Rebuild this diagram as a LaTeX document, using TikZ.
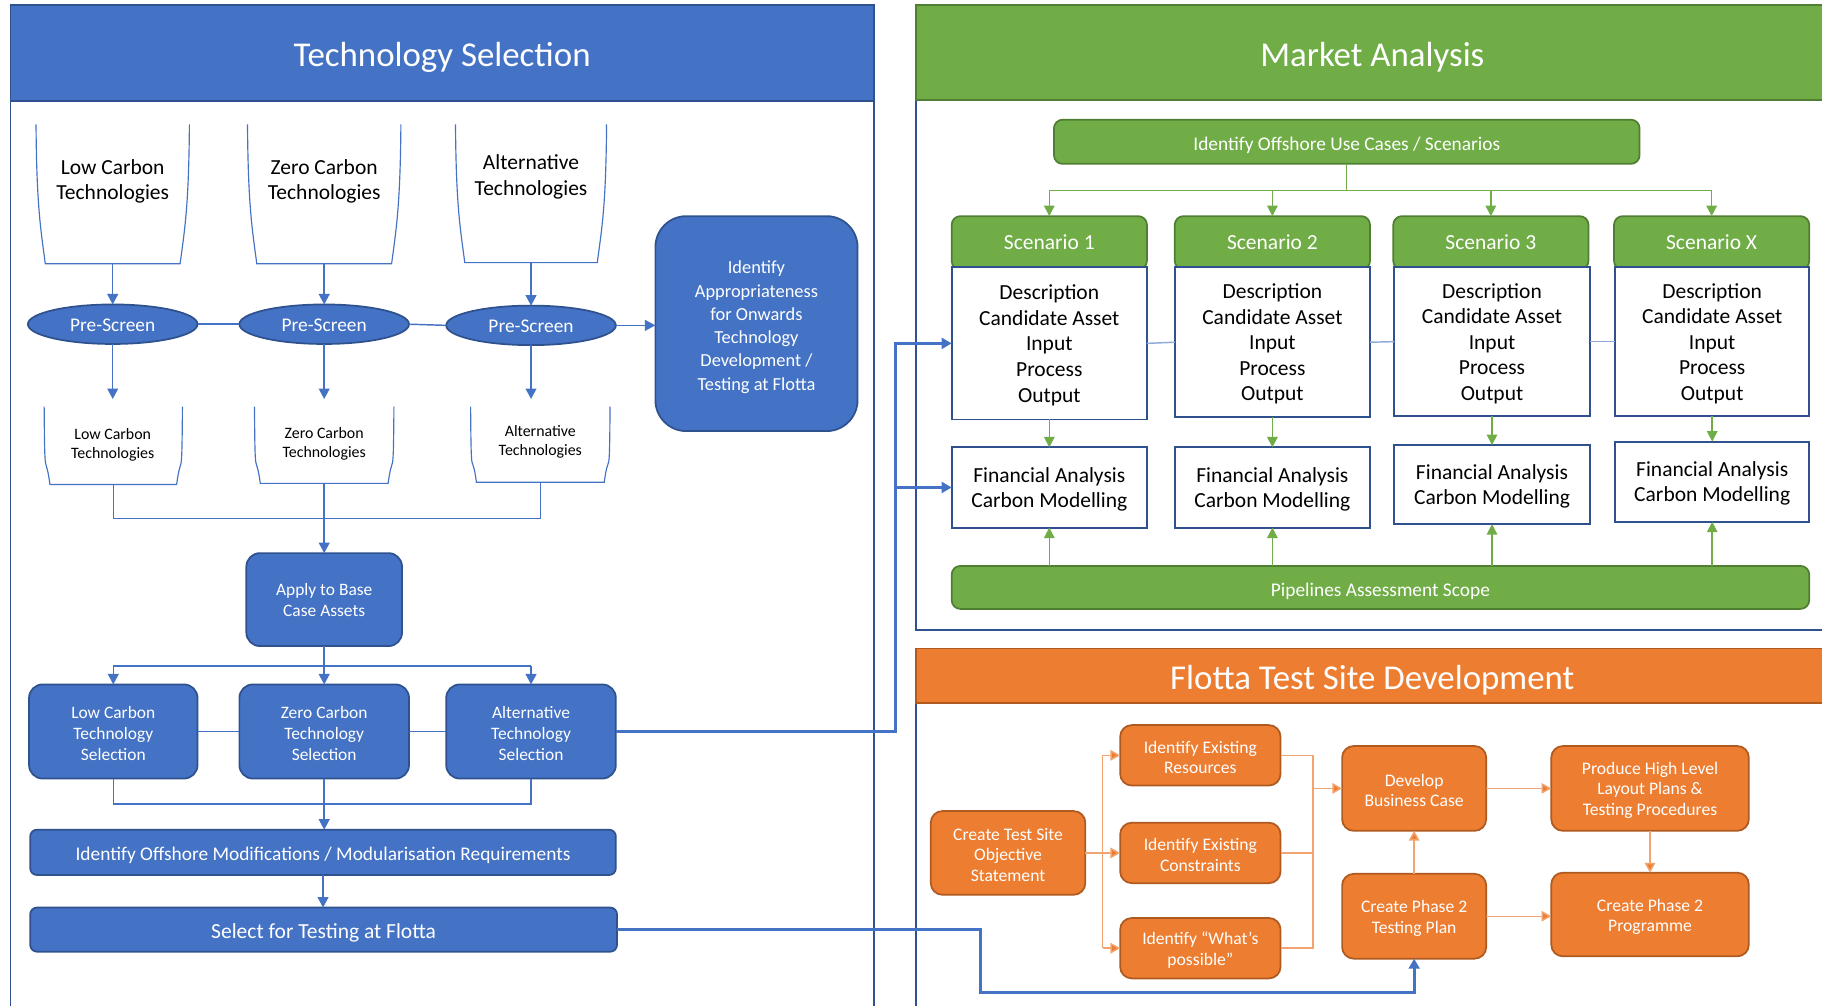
\documentclass[tikz,border=0pt]{standalone}
\usepackage{fontspec}
\setmainfont{Carlito}
\usetikzlibrary{arrows.meta,shapes.geometric}
\definecolor{bfill}{HTML}{4472C4}
\definecolor{bdark}{HTML}{2F528F}
\definecolor{blight}{HTML}{8FAADC}
\definecolor{gfill}{HTML}{70AD47}
\definecolor{gdark}{HTML}{507E32}
\definecolor{ofill}{HTML}{ED7D31}
\definecolor{odark}{HTML}{AE5A21}
\definecolor{oline}{HTML}{F2A470}
\newcommand\FTitle{\fontsize{18pt}{21pt}\selectfont}
\newcommand\FBody{\fontsize{11.1pt}{13.2pt}\selectfont}
\newcommand\FMed{\fontsize{10pt}{12pt}\selectfont}
\newcommand\FIA{\fontsize{9.5pt}{12pt}\selectfont}
\newcommand\FBx{\fontsize{9pt}{10.8pt}\selectfont}
\newcommand\FSm{\fontsize{8.2pt}{9.6pt}\selectfont}
\newcommand\FOr{\fontsize{9.1pt}{10.6pt}\selectfont}
\newcommand\sk[1]{\rule{0pt}{#1}}
\tikzset{
  every node/.style={inner sep=0pt,outer sep=0pt,align=center},
  wh/.style 2 args={minimum width=#1*0.6pt,minimum height=#2*0.6pt},
  tdown/.style={execute at begin node={\rule{0pt}{#1}}},
  panelhead/.style={line width=0.9pt,text=white,font=\FTitle,tdown=17.2pt},
  panelbody/.style={draw=bdark,line width=0.9pt,fill=white},
  bbox/.style={draw=bdark,fill=bfill,line width=0.9pt,rounded corners=7pt,text=white,font=\FBx},
  bbar/.style={draw=bdark,fill=bfill,line width=0.9pt,rounded corners=3.5pt,text=white},
  pscreen/.style={ellipse,draw=bdark,fill=bfill,line width=0.9pt,text=white,font=\FMed,tdown=7.6pt},
  contl/.style={draw=bfill,line width=0.6pt},
  gbox/.style={draw=gdark,fill=gfill,line width=0.9pt,rounded corners=4.5pt,text=white},
  wbox/.style={draw=bdark,fill=white,line width=1pt,font=\FBody},
  obox/.style={draw=odark,fill=ofill,line width=0.9pt,rounded corners=6pt,text=white,font=\FOr},
  bc/.style={draw=bfill,line width=0.75pt},
  bca/.style={bc,-{Triangle[width=5.6pt,length=5.4pt]}},
  bthick/.style={draw=bfill,line width=1.6pt},
  bthicka/.style={bthick,-{Triangle[width=5.6pt,length=5.2pt]}},
  gc/.style={draw=gfill,line width=0.75pt},
  gca/.style={gc,-{Triangle[width=5.4pt,length=5.4pt]}},
  lbc/.style={draw=blight,line width=0.75pt},
  oc/.style={draw=oline,line width=0.75pt},
  oca/.style={oc,-{Triangle[width=5.4pt,length=5pt,fill=ofill]}},
}
\newcommand\contshape[2]{\draw[contl] (#1.north west) .. controls +(0.5,70) and +(-4,-30) .. ([xshift=#2*0.6pt]#1.south west) -- ([xshift=-#2*0.6pt]#1.south east) .. controls +(4,-30) and +(-0.5,70) .. (#1.north east);}
\begin{document}
\begin{tikzpicture}[x=0.6pt,y=-0.6pt]
\clip (0,0) rectangle (1568,865);
\fill[white] (0,0) rectangle (1568,865);

% ---------- panels ----------
\draw[panelbody] (9,4) rectangle (752,900);
\node[panelhead,fill=bfill,draw=bdark,wh={743}{83}] (tshead) at (380.5,45.5) {Technology Selection};
\draw[panelbody] (788,4) rectangle (1574,542);
\node[panelhead,fill=gfill,draw=gdark,wh={786}{82}] (mahead) at (1181,45) {Market Analysis};
\draw[panelbody] (788,558) rectangle (1574,900);
\node[panelhead,fill=ofill,draw=odark,wh={786}{47}] (fthead) at (1181,581.5) {Flotta Test Site Development};

% ---------- technology selection ----------
\node[wh={132}{120}] (lct) at (97,167) {};
\node[wh={132}{120}] (zct) at (279,167) {};
\node[wh={130}{119}] (alt) at (457,166.5) {};
\contshape{lct}{8}
\contshape{zct}{8}
\contshape{alt}{8}
\node[font=\FBody] (lctt) at (97,156) {Low Carbon\\Technologies};
\node[font=\FBody] (zctt) at (279,156) {Zero Carbon\\Technologies};
\node[font=\FBody] (altt) at (457,152) {Alternative\\Technologies};

\node[pscreen,wh={146}{34}] (ps1) at (97,279) {Pre-Screen};
\node[pscreen,wh={146}{34}] (ps2) at (279,279) {Pre-Screen};
\node[pscreen,wh={146}{34}] (ps3) at (457,280) {Pre-Screen};

\node[bbox,rounded corners=16pt,font=\FIA,wh={174}{185}] (ia) at (651,278.5)
  {\sk{10.3pt}Identify\\Appropriateness\\for Onwards\\Technology\\Development /\\Testing at Flotta};

\node[wh={119}{67}] (lcl) at (97.5,383.5) {};
\node[wh={120}{66}] (zcl) at (279,383) {};
\node[wh={120}{65}] (all) at (465,382.5) {};
\contshape{lcl}{5}
\contshape{zcl}{5}
\contshape{all}{5}
\node[font=\FSm] (lclt) at (97,383) {Low Carbon\\Technologies};
\node[font=\FSm] (zclt) at (279,382) {Zero Carbon\\Technologies};
\node[font=\FSm] (allt) at (465,380) {Alternative\\Technologies};

\node[bbox,wh={134}{80}] (ab) at (279,516) {Apply to Base\\Case Assets};
\node[bbox,wh={145}{81}] (lcs) at (97.5,629.5) {\sk{8.7pt}Low Carbon\\Technology\\Selection};
\node[bbox,wh={146}{81}] (zcs) at (279,629.5) {\sk{8.7pt}Zero Carbon\\Technology\\Selection};
\node[bbox,wh={146}{81}] (as) at (457,629.5) {\sk{8.7pt}Alternative\\Technology\\Selection};
\node[bbar,font=\FMed,tdown=10.4pt,wh={504}{39}] (iom) at (278,733.5) {Identify Offshore Modifications / Modularisation Requirements};
\node[bbar,font=\FBody,tdown=11.2pt,wh={505}{38}] (sel) at (278.5,800) {Select for Testing at Flotta};

% connectors (technology)
\draw[bca] (lct.south) -- (ps1.north);
\draw[bca] (zct.south) -- (ps2.north);
\draw[bca] (alt.south) -- (ps3.north);
\draw[bc] (ps1.east) -- (ps2.west);
\draw[bc] (ps2.east) -- (ps3.west);
\draw[bca] (ps3.east) -- (ps3.east -| ia.west);
\draw[bca,shorten >=4pt] (ps1.south) -- (ps1.south |- lcl.north);
\draw[bca,shorten >=4pt] (ps2.south) -- (ps2.south |- zcl.north);
\draw[bca,shorten >=4pt] (ps3.south) -- (ps3.south |- all.north);
\coordinate (m1) at (279,446);
\draw[bc] (lcl.south) |- (m1) -| (all.south);
\draw[bca] (zcl.south) -- (ab.north);
\coordinate (m2) at (279,573);
\draw[bc] (ab.south) -- (m2);
\draw[bc] (lcs.north |- m2) -- (as.north |- m2);
\draw[bca] (lcs.north |- m2) -- (lcs.north);
\draw[bca] (m2) -- (zcs.north);
\draw[bca] (as.north |- m2) -- (as.north);
\draw[bc] (lcs.east) -- (zcs.west);
\draw[bc] (zcs.east) -- (as.west);
\coordinate (m3) at (279,692);
\draw[bc] (lcs.south) |- (m3) -| (as.south);
\draw[bca] (zcs.south) -- (zcs.south |- iom.north);
\draw[bca] (iom.south) -- (iom.south |- sel.north);

% ---------- market analysis ----------
\node[gbox,font=\FMed,tdown=10.4pt,wh={504}{38}] (iou) at (1159,122) {Identify Offshore Use Cases / Scenarios};
\node[gbox,font=\FBody,wh={168}{46}] (s1) at (903,209) {};
\node[gbox,font=\FBody,wh={168}{46}] (s2) at (1095,209) {};
\node[gbox,font=\FBody,wh={168}{46}] (s3) at (1283,209) {};
\node[gbox,font=\FBody,wh={168}{46}] (sx) at (1473,209) {};
\node[wbox,wh={168}{131}] (d1) at (903,295.5) {\sk{9.6pt}Description\\Candidate Asset\\Input\\Process\\Output};
\node[wbox,wh={168}{129}] (d2) at (1095,294.5) {\sk{9.6pt}Description\\Candidate Asset\\Input\\Process\\Output};
\node[wbox,wh={168}{128}] (d3) at (1284,294) {\sk{9.6pt}Description\\Candidate Asset\\Input\\Process\\Output};
\node[wbox,wh={167}{128}] (dx) at (1473.5,294) {\sk{9.6pt}Description\\Candidate Asset\\Input\\Process\\Output};
\node[text=white,font=\FBody] (s1t) at (903,208) {Scenario 1};
\node[text=white,font=\FBody] (s2t) at (1095,208) {Scenario 2};
\node[text=white,font=\FBody] (s3t) at (1283,208) {Scenario 3};
\node[text=white,font=\FBody] (sxt) at (1473,208) {Scenario X};
\node[wbox,wh={168}{69}] (f1) at (903,419.5) {\sk{9.6pt}Financial Analysis\\Carbon Modelling};
\node[wbox,wh={168}{69}] (f2) at (1095,419.5) {\sk{9.6pt}Financial Analysis\\Carbon Modelling};
\node[wbox,wh={168}{68}] (f3) at (1284,417) {\sk{9.6pt}Financial Analysis\\Carbon Modelling};
\node[wbox,wh={167}{69}] (fx) at (1473.5,414.5) {\sk{9.6pt}Financial Analysis\\Carbon Modelling};
\node[gbox,font=\FMed,tdown=10.6pt,wh={738}{37}] (pas) at (1188,505.5) {Pipelines Assessment Scope};

\coordinate (m4) at (1159,164);
\draw[gc] (iou.south) -- (m4);
\draw[gc] (s1.north |- m4) -- (sx.north |- m4);
\draw[gca] (s1.north |- m4) -- (s1.north);
\draw[gca] (s2.north |- m4) -- (s2.north);
\draw[gca] (s3.north |- m4) -- (s3.north);
\draw[gca] (sx.north |- m4) -- (sx.north);
\draw[lbc] (d1.east) -- (d2.west);
\draw[lbc] (d2.east) -- (d3.west);
\draw[lbc] (d3.east) -- (dx.west);
\draw[gca] (d1.south) -- (f1.north);
\draw[gca] (d2.south) -- (f2.north);
\draw[gca] (d3.south) -- (f3.north);
\draw[gca] (dx.south) -- (fx.north);
\draw[gca] (f1.south |- pas.north) -- (f1.south);
\draw[gca] (f2.south |- pas.north) -- (f2.south);
\draw[gca] (f3.south |- pas.north) -- (f3.south);
\draw[gca] (fx.south |- pas.north) -- (fx.south);

% ---------- flotta ----------
\node[obox,wh={133}{72}] (cts) at (867.5,734) {\sk{8.2pt}Create Test Site\\Objective\\Statement};
\node[obox,wh={138}{52}] (ier) at (1033,650) {\sk{8.3pt}Identify Existing\\Resources};
\node[obox,wh={138}{52}] (iec) at (1033,734) {\sk{8.3pt}Identify Existing\\Constraints};
\node[obox,wh={138}{52}] (iwp) at (1033,816) {\sk{8.3pt}Identify “What’s\\possible”};
\node[obox,wh={124}{73}] (dbc) at (1217,678.5) {\sk{8.3pt}Develop\\Business Case};
\node[obox,wh={124}{73}] (tp) at (1217,788.5) {\sk{8.5pt}Create Phase 2\\Testing Plan};
\node[obox,wh={170}{73}] (phl) at (1420,678.5) {\sk{8.3pt}Produce High Level\\Layout Plans \&\\Testing Procedures};
\node[obox,wh={170}{72}] (cpp) at (1420,787) {\sk{8.8pt}Create Phase 2\\Programme};

\coordinate (o1) at (949,734);
\draw[oc] (cts.east) -- (o1);
\draw[oc] (o1 |- ier.west) -- (o1 |- iwp.west);
\draw[oca] (o1 |- ier.west) -- (ier.west);
\draw[oca] (o1 |- iec.west) -- (iec.west);
\draw[oca] (o1 |- iwp.west) -- (iwp.west);
\coordinate (o2) at (1130,678.5);
\draw[oc] (ier.east) -- (ier.east -| o2) -- (iwp.east -| o2) -- (iwp.east);
\draw[oc] (iec.east) -- (iec.east -| o2);
\draw[oca] (o2) -- (dbc.west);
\draw[oca] (dbc.east) -- (phl.west);
\draw[oca] (phl.south) -- (cpp.north);
\draw[oca] (tp.east) -- (tp.east -| cpp.west);
\draw[oca] (tp.north) -- (dbc.south);

% ---------- cross-panel connectors ----------
\coordinate (j1) at (771,629.5);
\draw[bthicka] (as.east) -- (j1) |- (d1.west);
\draw[bthicka] (j1 |- f1.west) -- (f1.west);
\coordinate (j2) at (844,854);
\draw[bthicka] (sel.east) -| (j2) -| (tp.south);
\end{tikzpicture}
\end{document}
